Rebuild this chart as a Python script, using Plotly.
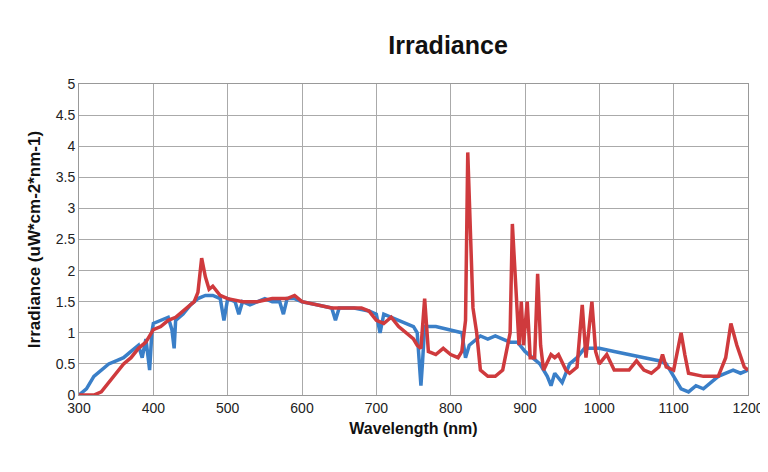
import plotly.graph_objects as go

blue_x = [300,310,320,330,340,350,360,370,380,385,390,395,398,400,410,420,425,428,430,440,450,460,470,480,490,495,500,510,515,520,530,540,550,560,570,575,580,590,600,620,640,645,650,670,690,700,705,710,720,730,740,750,755,760,762,765,780,800,815,820,825,840,850,860,880,890,900,910,920,930,935,940,950,960,970,980,1000,1020,1040,1060,1080,1090,1100,1110,1120,1130,1140,1150,1160,1180,1190,1200]
blue_y = [0,0.1,0.3,0.4,0.5,0.55,0.6,0.7,0.8,0.6,0.9,0.4,1.0,1.15,1.2,1.25,1.05,0.75,1.2,1.3,1.45,1.55,1.6,1.6,1.55,1.2,1.55,1.5,1.3,1.5,1.45,1.5,1.55,1.5,1.5,1.3,1.55,1.55,1.5,1.45,1.4,1.2,1.4,1.4,1.35,1.3,1.0,1.3,1.25,1.2,1.15,1.1,1.0,0.15,0.5,1.1,1.1,1.05,1.0,0.6,0.8,0.95,0.9,0.95,0.85,0.85,0.7,0.6,0.5,0.3,0.15,0.35,0.2,0.5,0.6,0.75,0.75,0.7,0.65,0.6,0.55,0.5,0.3,0.1,0.05,0.15,0.1,0.2,0.3,0.4,0.35,0.4]

red_x = [300,320,330,340,350,360,370,380,390,400,410,420,430,440,450,455,460,465,470,475,480,490,500,520,540,560,580,590,600,620,640,660,680,690,700,710,720,730,740,750,755,760,765,770,780,790,800,810,815,820,823,827,830,835,840,850,860,870,880,883,887,892,895,898,903,907,913,917,921,925,935,940,945,955,960,970,977,982,990,995,1000,1010,1020,1040,1050,1060,1070,1080,1085,1090,1100,1110,1115,1120,1140,1160,1170,1177,1185,1195,1200]
red_y = [0,0,0.05,0.2,0.35,0.5,0.6,0.75,0.85,1.05,1.1,1.2,1.25,1.35,1.45,1.5,1.65,2.2,1.9,1.7,1.75,1.6,1.55,1.5,1.5,1.55,1.55,1.6,1.5,1.45,1.4,1.4,1.4,1.35,1.2,1.15,1.25,1.1,1.0,0.9,0.8,0.75,1.55,0.7,0.65,0.75,0.65,0.6,0.7,1.2,3.9,2.6,1.4,1.0,0.4,0.3,0.3,0.4,1.0,2.75,1.8,0.8,1.5,0.8,1.5,0.6,0.6,1.95,0.8,0.4,0.65,0.6,0.65,0.4,0.35,0.45,1.45,0.6,1.5,0.7,0.5,0.65,0.4,0.4,0.55,0.4,0.35,0.45,0.65,0.45,0.4,1.0,0.65,0.35,0.3,0.3,0.6,1.15,0.8,0.45,0.4]

fig = go.Figure()
fig.add_trace(go.Scatter(x=blue_x, y=blue_y, mode="lines", line=dict(color="#3a7fc8", width=3.5)))
fig.add_trace(go.Scatter(x=red_x, y=red_y, mode="lines", line=dict(color="#cf3a3d", width=3.5)))

axfont = dict(family="Liberation Sans, Arial, sans-serif", size=14, color="#222")
fig.update_layout(
    width=768, height=472, showlegend=False,
    plot_bgcolor="white", paper_bgcolor="white",
    margin=dict(l=71, r=24, t=76, b=85),
    title=dict(text="<b>Irradiance</b>", x=0.573, xanchor="center", y=0.94,
               font=dict(family="Liberation Sans, Arial, sans-serif", size=25, color="#111")),
    xaxis=dict(range=[300, 1200], dtick=100, showgrid=True, gridcolor="#aaaaaa", gridwidth=1,
               linecolor="#999", showline=True, mirror=True, ticks="", tickfont=axfont,
               title=dict(text="<b>Wavelength (nm)</b>", font=dict(family=axfont["family"], size=16, color="#111"), standoff=8)),
    yaxis=dict(range=[0, 5], dtick=0.5, showgrid=True, gridcolor="#aaaaaa", gridwidth=1,
               linecolor="#999", showline=True, mirror=True, ticks="", tickfont=axfont,
               title=dict(text="<b>Irradiance (uW*cm-2*nm-1)</b>", font=dict(family="Liberation Sans, Arial, sans-serif", size=17, color="#111"), standoff=10)),
)
fig.write_html("out.html")
